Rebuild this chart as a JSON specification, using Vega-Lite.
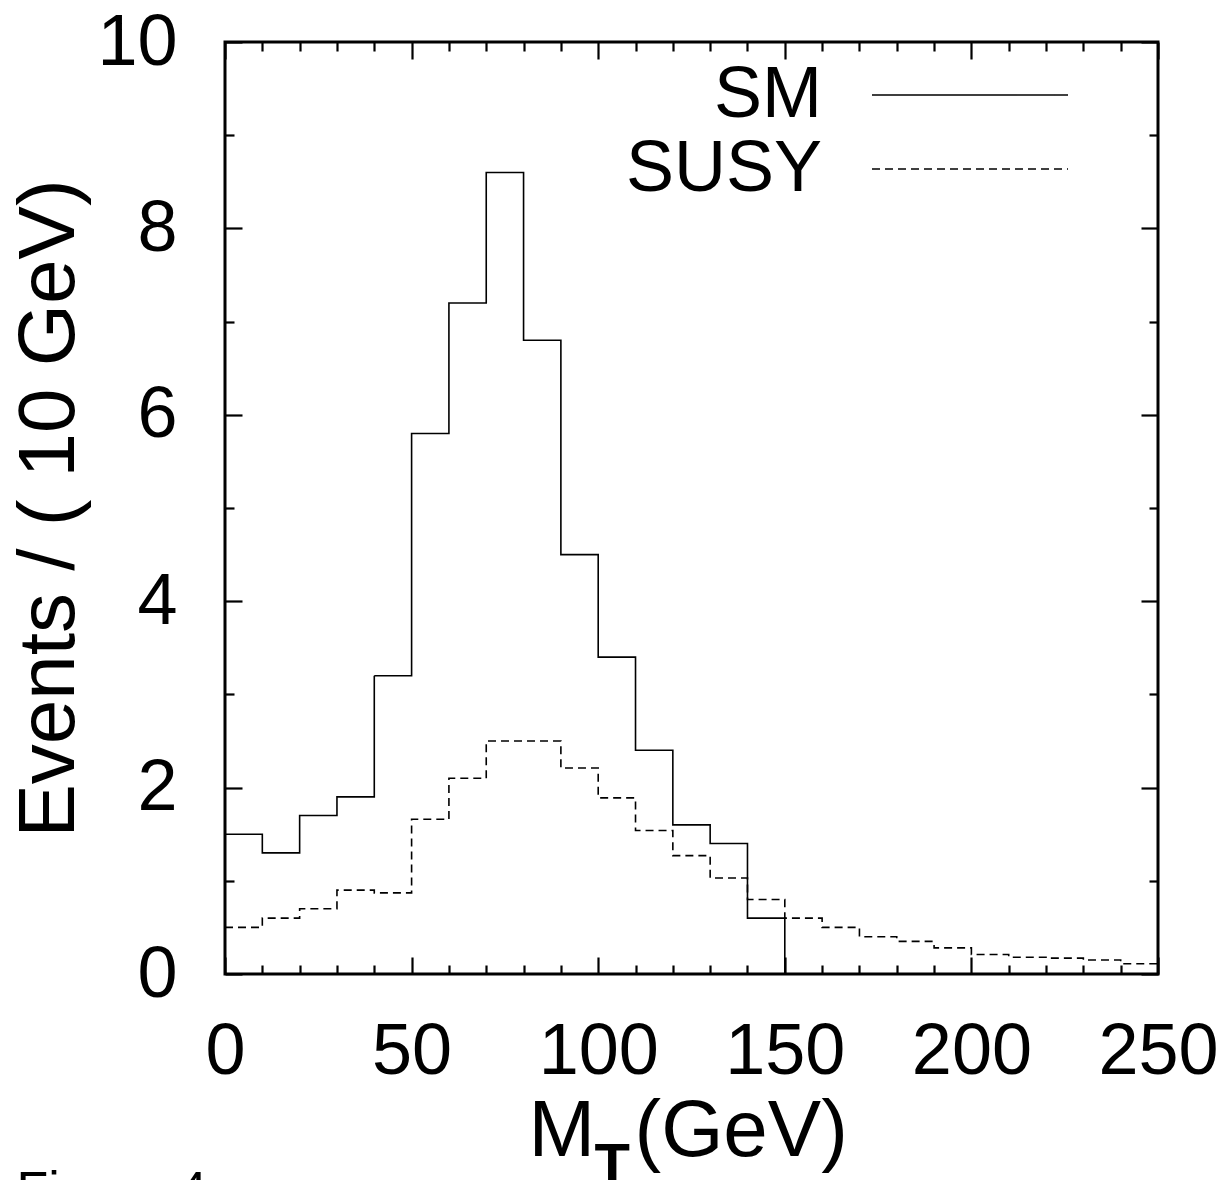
{
  "$schema": "https://vega.github.io/schema/vega-lite/v6.json",
  "width": 933,
  "height": 932,
  "autosize": {"type": "none"},
  "padding": {"left": 225, "top": 42, "right": 68, "bottom": 206},
  "background": "white",
  "config": {
    "view": {"stroke": "#000", "strokeWidth": 3},
    "axis": {
      "domain": false,
      "grid": false,
      "tickColor": "#000",
      "tickWidth": 2.2,
      "labelFont": "Liberation Sans",
      "labelFontSize": 72,
      "labelColor": "#000",
      "titleFont": "Liberation Sans",
      "titleColor": "#000",
      "titleFontWeight": "normal",
      "labelOverlap": false,
      "labelFlush": false
    },
    "font": "Liberation Sans"
  },
  "data": {
    "values": [
      {"series": "SM", "mt": 0, "events": 1.5},
      {"series": "SM", "mt": 10, "events": 1.3},
      {"series": "SM", "mt": 20, "events": 1.7},
      {"series": "SM", "mt": 30, "events": 1.9},
      {"series": "SM", "mt": 40, "events": 3.2},
      {"series": "SM", "mt": 50, "events": 5.8},
      {"series": "SM", "mt": 60, "events": 7.2},
      {"series": "SM", "mt": 70, "events": 8.6},
      {"series": "SM", "mt": 80, "events": 6.8},
      {"series": "SM", "mt": 90, "events": 4.5},
      {"series": "SM", "mt": 100, "events": 3.4},
      {"series": "SM", "mt": 110, "events": 2.4},
      {"series": "SM", "mt": 120, "events": 1.6},
      {"series": "SM", "mt": 130, "events": 1.4},
      {"series": "SM", "mt": 140, "events": 0.6},
      {"series": "SM", "mt": 150, "events": 0},
      {"series": "SUSY", "mt": 0, "events": 0.5},
      {"series": "SUSY", "mt": 10, "events": 0.6},
      {"series": "SUSY", "mt": 20, "events": 0.7},
      {"series": "SUSY", "mt": 30, "events": 0.9},
      {"series": "SUSY", "mt": 40, "events": 0.87},
      {"series": "SUSY", "mt": 50, "events": 1.66},
      {"series": "SUSY", "mt": 60, "events": 2.1},
      {"series": "SUSY", "mt": 70, "events": 2.5},
      {"series": "SUSY", "mt": 80, "events": 2.5},
      {"series": "SUSY", "mt": 90, "events": 2.21},
      {"series": "SUSY", "mt": 100, "events": 1.89},
      {"series": "SUSY", "mt": 110, "events": 1.54},
      {"series": "SUSY", "mt": 120, "events": 1.27},
      {"series": "SUSY", "mt": 130, "events": 1.03},
      {"series": "SUSY", "mt": 140, "events": 0.8},
      {"series": "SUSY", "mt": 150, "events": 0.6},
      {"series": "SUSY", "mt": 160, "events": 0.5},
      {"series": "SUSY", "mt": 170, "events": 0.4},
      {"series": "SUSY", "mt": 180, "events": 0.35},
      {"series": "SUSY", "mt": 190, "events": 0.28},
      {"series": "SUSY", "mt": 200, "events": 0.21},
      {"series": "SUSY", "mt": 210, "events": 0.18},
      {"series": "SUSY", "mt": 220, "events": 0.17},
      {"series": "SUSY", "mt": 230, "events": 0.15},
      {"series": "SUSY", "mt": 240, "events": 0.11},
      {"series": "SUSY", "mt": 250, "events": 0.11}
    ]
  },
  "resolve": {"axis": {"x": "independent", "y": "independent"}},
  "layer": [
    {
      "mark": {"type": "line", "interpolate": "step-after", "stroke": "#000", "strokeWidth": 1.6},
      "encoding": {
        "x": {
          "field": "mt", "type": "quantitative",
          "scale": {"domain": [0, 250], "nice": false, "zero": false},
          "axis": {
            "orient": "bottom",
            "values": [0,10,20,30,40,50,60,70,80,90,100,110,120,130,140,150,160,170,180,190,200,210,220,230,240,250],
            "tickSize": {"condition": {"test": "datum.value % 50 === 0", "value": -17}, "value": -9},
            "labelExpr": "datum.value % 50 === 0 ? datum.label : ''",
            "labelBaseline": "alphabetic",
            "labelPadding": 116,
            "title": "M",
            "titleFontSize": 80,
            "titleAlign": "left",
            "titleBaseline": "alphabetic",
            "titleAnchor": null,
            "titleX": 303,
            "titleY": 181
          }
        },
        "y": {
          "field": "events", "type": "quantitative",
          "scale": {"domain": [0, 10], "nice": false},
          "axis": {
            "orient": "left",
            "values": [0,1,2,3,4,5,6,7,8,9,10],
            "tickSize": {"condition": {"test": "datum.value % 2 === 0", "value": -17}, "value": -9},
            "labelExpr": "datum.value % 2 === 0 ? datum.label : ''",
            "labelPadding": 65,
            "labelBaseline": "middle",
            "title": "Events / ( 10 GeV)",
            "titleFontSize": 80,
            "titleAngle": -90,
            "titleAlign": "center",
            "titleBaseline": "alphabetic",
            "titleX": -152,
            "titleY": 466
          }
        },
        "strokeDash": {
          "field": "series", "type": "nominal",
          "scale": {"domain": ["SM", "SUSY"], "range": [[1, 0], [8, 5]]},
          "legend": {
            "orient": "none",
            "legendX": 709,
            "legendY": 17,
            "title": null,
            "padding": 0,
            "symbolType": "M-4,0H4",
            "symbolSize": 2401,
            "symbolStrokeWidth": 1.6,
            "symbolStrokeColor": "#000",
            "symbolFillColor": "transparent",
            "symbolOpacity": 1,
            "labelFont": "Liberation Sans",
            "labelFontSize": 72,
            "labelColor": "#000",
            "labelAlign": "right",
            "labelBaseline": "middle",
            "labelOffset": -184,
            "labelLimit": 500,
            "rowPadding": 2
          }
        }
      }
    },
    {
      "mark": {"type": "point", "opacity": 0},
      "encoding": {
        "x": {
          "field": "mt", "type": "quantitative",
          "axis": {
            "orient": "top",
            "values": [0,10,20,30,40,50,60,70,80,90,100,110,120,130,140,150,160,170,180,190,200,210,220,230,240,250],
            "tickSize": {"condition": {"test": "datum.value % 50 === 0", "value": -17}, "value": -9},
            "labels": false,
            "title": "(GeV)",
            "titleFontSize": 80,
            "titleAlign": "left",
            "titleBaseline": "alphabetic",
            "titleX": 409,
            "titleY": 1113
          }
        },
        "y": {
          "field": "events", "type": "quantitative",
          "axis": {
            "orient": "right",
            "values": [0,1,2,3,4,5,6,7,8,9,10],
            "tickSize": {"condition": {"test": "datum.value % 2 === 0", "value": -17}, "value": -9},
            "labels": false,
            "title": null
          }
        }
      }
    },
    {
      "mark": {"type": "point", "opacity": 0},
      "encoding": {
        "x": {
          "field": "mt", "type": "quantitative",
          "axis": {
            "orient": "bottom",
            "ticks": false,
            "labels": false,
            "title": "T",
            "titleFontSize": 58,
            "titleFontWeight": "bold",
            "titleAlign": "left",
            "titleBaseline": "alphabetic",
            "titleX": 369,
            "titleY": 209
          }
        },
        "y": {"field": "events", "type": "quantitative", "axis": null}
      }
    },
    {
      "mark": {"type": "point", "opacity": 0},
      "encoding": {
        "x": {
          "field": "mt", "type": "quantitative",
          "axis": {
            "orient": "bottom",
            "ticks": false,
            "labels": false,
            "title": "Figure 4",
            "titleFontSize": 52,
            "titleAlign": "left",
            "titleBaseline": "alphabetic",
            "titleX": -209,
            "titleY": 233
          }
        },
        "y": {"field": "events", "type": "quantitative", "axis": null}
      }
    }
  ]
}
